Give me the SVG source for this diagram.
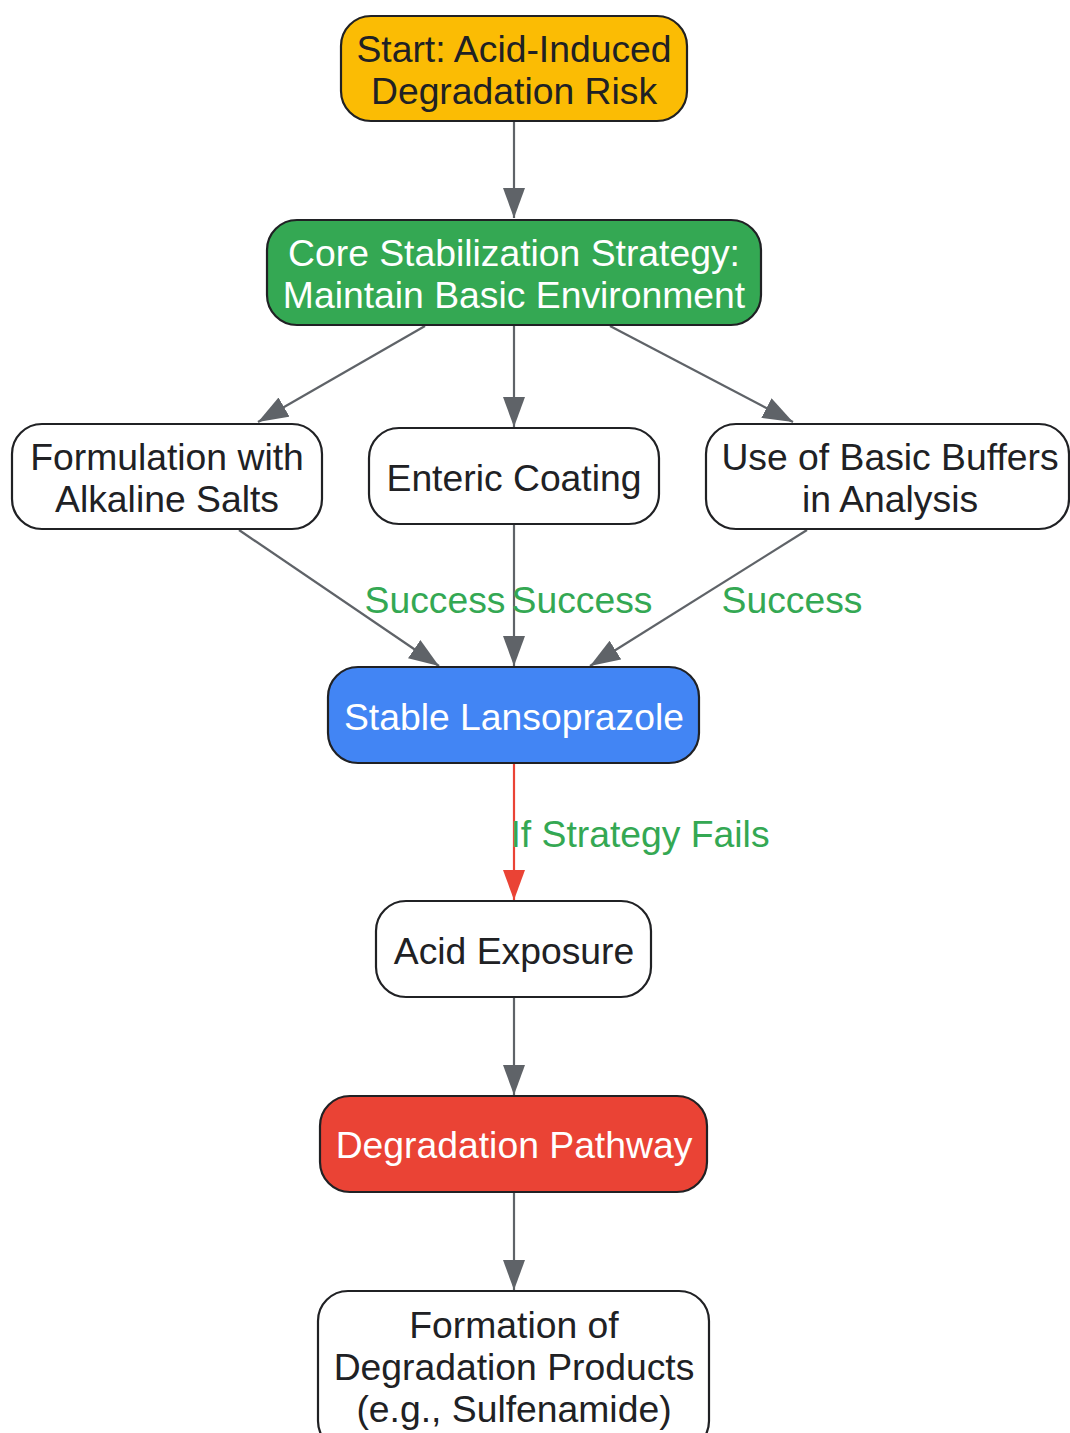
<svg xmlns="http://www.w3.org/2000/svg" width="1070" height="1433" viewBox="0 0 1070 1433">
<style>
.n{stroke:#202124;stroke-width:2.2}
.t{font-family:"Liberation Sans",Arial,sans-serif;font-size:37.3px;text-anchor:middle;fill:#202124}
.w{fill:#ffffff}
.e{fill:none;stroke:#5F6368;stroke-width:2.2}
.r{fill:none;stroke:#EA4335;stroke-width:2.2}
.l{font-family:"Liberation Sans",Arial,sans-serif;font-size:37.3px;text-anchor:middle;fill:#34A853}
</style>
<defs>
<marker id="ag" markerUnits="userSpaceOnUse" markerWidth="30" markerHeight="22" refX="30" refY="11" orient="auto"><path d="M0,0 L30,11 L0,22 z" fill="#5F6368"/></marker>
<marker id="ar" markerUnits="userSpaceOnUse" markerWidth="30" markerHeight="22" refX="30" refY="11" orient="auto"><path d="M0,0 L30,11 L0,22 z" fill="#EA4335"/></marker>
</defs>
<rect width="1070" height="1433" fill="#ffffff"/>
<g id="edges">
<line class="e" x1="514" y1="121" x2="514" y2="218" marker-end="url(#ag)"/>
<line class="e" x1="425" y1="326" x2="258" y2="422" marker-end="url(#ag)"/>
<line class="e" x1="514" y1="326" x2="514" y2="427" marker-end="url(#ag)"/>
<line class="e" x1="610" y1="326" x2="793" y2="422" marker-end="url(#ag)"/>
<line class="e" x1="239" y1="530" x2="439" y2="666" marker-end="url(#ag)"/>
<line class="e" x1="514" y1="524" x2="514" y2="666" marker-end="url(#ag)"/>
<line class="e" x1="807" y1="530" x2="590" y2="666" marker-end="url(#ag)"/>
<line class="r" x1="514" y1="763" x2="514" y2="900" marker-end="url(#ar)"/>
<line class="e" x1="514" y1="997" x2="514" y2="1095" marker-end="url(#ag)"/>
<line class="e" x1="514" y1="1192" x2="514" y2="1290" marker-end="url(#ag)"/>
<text class="l" x="435" y="613">Success</text>
<text class="l" x="582" y="613">Success</text>
<text class="l" x="792" y="613">Success</text>
<text class="l" x="640" y="847">If Strategy Fails</text>
</g>
<g id="start">
<rect class="n" x="341" y="16" width="346" height="105" rx="30" fill="#FBBC04"/>
<text class="t" x="514" y="62">Start: Acid-Induced</text>
<text class="t" x="514" y="104">Degradation Risk</text>
</g>
<g id="core">
<rect class="n" x="267" y="220" width="494" height="105" rx="30" fill="#34A853"/>
<text class="t w" x="514" y="266">Core Stabilization Strategy:</text>
<text class="t w" x="514" y="308">Maintain Basic Environment</text>
</g>
<g id="formulation">
<rect class="n" x="12" y="424" width="310" height="105" rx="30" fill="#ffffff"/>
<text class="t" x="167" y="470">Formulation with</text>
<text class="t" x="167" y="512">Alkaline Salts</text>
</g>
<g id="enteric">
<rect class="n" x="369" y="428" width="290" height="96" rx="30" fill="#ffffff"/>
<text class="t" x="514" y="491">Enteric Coating</text>
</g>
<g id="buffers">
<rect class="n" x="706" y="424" width="363" height="105" rx="30" fill="#ffffff"/>
<text class="t" x="890" y="470">Use of Basic Buffers</text>
<text class="t" x="890" y="512">in Analysis</text>
</g>
<g id="stable">
<rect class="n" x="328" y="667" width="371" height="96" rx="30" fill="#4285F4"/>
<text class="t w" x="514" y="730">Stable Lansoprazole</text>
</g>
<g id="acid">
<rect class="n" x="376" y="901" width="275" height="96" rx="30" fill="#ffffff"/>
<text class="t" x="514" y="964">Acid Exposure</text>
</g>
<g id="pathway">
<rect class="n" x="320" y="1096" width="387" height="96" rx="30" fill="#EA4335"/>
<text class="t w" x="514" y="1158">Degradation Pathway</text>
</g>
<g id="products">
<rect class="n" x="318" y="1291" width="391" height="160" rx="30" fill="#ffffff"/>
<text class="t" x="514" y="1338">Formation of</text>
<text class="t" x="514" y="1380">Degradation Products</text>
<text class="t" x="514" y="1422">(e.g., Sulfenamide)</text>
</g>
</svg>
